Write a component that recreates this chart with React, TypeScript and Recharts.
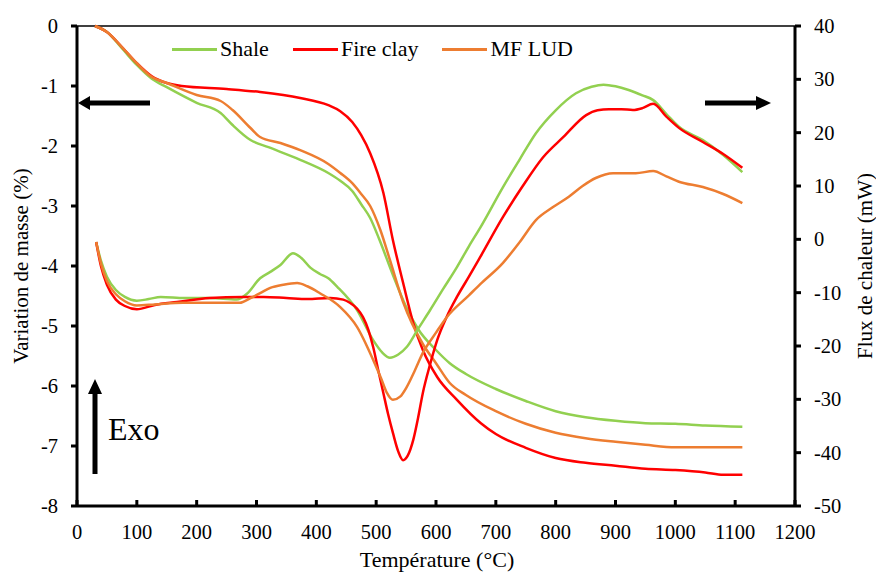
import React from "react";
import { LineChart, Line, XAxis, YAxis, ReferenceLine, Legend } from "recharts";

// mass loss curves (left axis, %)
const shaleTgTemp = [30, 50, 75, 100, 125, 150, 200, 240, 260, 290, 320, 373, 420, 440, 460, 475, 490, 505, 528, 550, 570, 600, 623, 650, 700, 750, 800, 850, 900, 950, 1000, 1050, 1112];
const shaleTg = [0, -0.1, -0.37, -0.65, -0.88, -1.02, -1.28, -1.45, -1.65, -1.9, -2.02, -2.23, -2.45, -2.58, -2.75, -2.97, -3.2, -3.55, -4.15, -4.68, -5.05, -5.4, -5.62, -5.8, -6.05, -6.25, -6.42, -6.52, -6.58, -6.62, -6.63, -6.66, -6.68];

const fireTgTemp = [30, 50, 75, 100, 125, 150, 175, 250, 306, 373, 420, 440, 460, 475, 490, 512, 528, 545, 562, 578, 602, 635, 675, 700, 750, 800, 850, 900, 950, 1000, 1050, 1080, 1112];
const fireTg = [0, -0.1, -0.35, -0.62, -0.84, -0.95, -1.0, -1.05, -1.1, -1.2, -1.32, -1.42, -1.6, -1.82, -2.12, -2.78, -3.57, -4.28, -4.95, -5.4, -5.85, -6.23, -6.62, -6.8, -7.03, -7.2, -7.28, -7.33, -7.38, -7.4, -7.44, -7.48, -7.48];

const ludTgTemp = [30, 50, 75, 100, 125, 150, 200, 240, 260, 290, 306, 340, 373, 420, 440, 460, 475, 490, 507, 523, 545, 578, 600, 623, 650, 700, 750, 800, 850, 900, 950, 1000, 1050, 1112];
const ludTg = [0, -0.1, -0.35, -0.62, -0.85, -0.95, -1.15, -1.25, -1.4, -1.7, -1.85, -1.95, -2.07, -2.3, -2.45, -2.62, -2.8, -3.0, -3.4, -3.9, -4.6, -5.3, -5.62, -5.95, -6.15, -6.42, -6.63, -6.78, -6.87, -6.93, -6.98, -7.02, -7.02, -7.02];

// heat flow curves (right axis, mW)
const shaleDscTemp = [32, 40, 50, 65, 80, 100, 120, 140, 180, 222, 267, 284, 306, 323, 340, 361, 375, 390, 406, 420, 435, 468, 495, 510, 523, 537, 551, 570, 590, 612, 635, 655, 674, 712, 740, 767, 800, 834, 860, 880, 900, 922, 945, 963, 985, 1006, 1046, 1080, 1112];
const shaleDsc = [-0.5, -4, -7, -9.5, -10.8, -11.5, -11.2, -10.8, -11.0, -11.0, -11.3, -10.2, -7.3, -6.1, -4.8, -2.6, -3.5, -5.3, -6.5, -7.3, -8.9, -13.25, -18.9, -21.2, -22.2, -21.6, -20.2, -16.8, -13.3, -9.3, -5.2, -1.3, 2.2, 9.8, 15, 19.9, 24.2, 27.4, 28.6, 29.0, 28.7, 28.0, 27.0, 26.1, 23.5, 21.1, 18.6, 15.8, 12.6];

const fireDscTemp = [32, 40, 50, 65, 80, 100, 130, 167, 222, 277, 312, 350, 385, 423, 445, 456, 468, 478, 487, 495, 503, 512, 520, 528, 537, 545, 553, 562, 570, 578, 590, 602, 618, 635, 655, 674, 712, 745, 779, 813, 851, 870, 889, 910, 929, 945, 963, 985, 1006, 1046, 1080, 1112];
const fireDsc = [-0.5, -5, -8.5, -11.3, -12.5, -13.1, -12.3, -11.75, -11.0, -10.8, -10.8, -11.0, -11.2, -11.0, -11.3, -11.9, -13, -14.6, -17, -20.2, -24.3, -28.8, -32.8, -36.3, -39.8, -41.4, -40.5, -37.6, -33.5, -28.8, -23.5, -18.9, -14.5, -10.8, -7, -3.3, 4.2, 10, 15.4, 19.2, 23.3, 24.2, 24.4, 24.4, 24.25, 24.6, 25.4, 23, 20.9, 18.25, 16, 13.4];

const ludDscTemp = [32, 40, 50, 65, 80, 100, 130, 177, 251, 272, 290, 306, 323, 345, 368, 385, 406, 440, 468, 495, 508, 518, 528, 540, 551, 565, 578, 600, 618, 655, 674, 712, 740, 767, 795, 822, 845, 867, 896, 934, 963, 985, 1006, 1046, 1080, 1112];
const ludDsc = [-0.5, -4.5, -7.8, -10.3, -11.6, -12.4, -12.2, -11.9, -11.9, -11.9, -11.0, -10.1, -9.1, -8.5, -8.2, -8.8, -10.1, -12.7, -16.4, -22.6, -26, -28.8, -30.1, -29.5, -27.7, -24.5, -21.3, -17.5, -14.6, -10.5, -8.4, -4.4, -0.5, 3.6, 6, 8, 10, 11.5, 12.4, 12.4, 12.8, 11.8, 10.8, 9.8, 8.5, 6.8];

const seriesNames = ["Shale", "Fire clay", "MF LUD"];
const seriesColors = ["#92D050", "#FF0000", "#ED7D31"];

const xTicks = [0, 100, 200, 300, 400, 500, 600, 700, 800, 900, 1000, 1100, 1200];
const leftTicks = [0, -1, -2, -3, -4, -5, -6, -7, -8];
const rightTicks = [40, 30, 20, 10, 0, -10, -20, -30, -40, -50];

const zip = (t: number[], v: number[]) => t.map((x, i) => ({ t: x, v: v[i] }));

const font = '"Liberation Serif", "Times New Roman", serif';

const LeftTick = ({ x, y, payload }: any) => (
  <g>
    <line x1={x - 6} x2={x} y1={y} y2={y} stroke="#000" strokeWidth={3} />
    <text x={x - 19} y={y + 7} textAnchor="end" fontSize={20.5} fontFamily={font} fill="#000">
      {payload.value}
    </text>
  </g>
);

const RightTick = ({ x, y, payload }: any) => (
  <g>
    <line x1={x} x2={x + 6} y1={y} y2={y} stroke="#000" strokeWidth={3} />
    <text x={x + 19} y={y + 7} textAnchor="start" fontSize={20.5} fontFamily={font} fill="#000">
      {payload.value}
    </text>
  </g>
);

const BottomTick = ({ x, y, payload }: any) => (
  <g>
    <line x1={x} x2={x} y1={y} y2={y - 6} stroke="#000" strokeWidth={3} />
    <text x={x} y={y + 33} textAnchor="middle" fontSize={20.5} fontFamily={font} fill="#000">
      {payload.value}
    </text>
  </g>
);

const LegendBox = () => (
  <div style={{ position: "relative", height: 0 }}>
    <div style={{ position: "absolute", left: 172, top: 0, display: "flex", alignItems: "center", fontFamily: font, fontSize: 22, lineHeight: "26px" }}>
      {seriesNames.map((n, i) => (
        <div key={n} style={{ display: "flex", alignItems: "center", marginRight: 24 }}>
          <div style={{ width: 45, height: 3, background: seriesColors[i], marginRight: 3 }} />
          <span>{n}</span>
        </div>
      ))}
    </div>
  </div>
);

export default function App() {
  const tg = [zip(shaleTgTemp, shaleTg), zip(fireTgTemp, fireTg), zip(ludTgTemp, ludTg)];
  const dsc = [zip(shaleDscTemp, shaleDsc), zip(fireDscTemp, fireDsc), zip(ludDscTemp, ludDsc)];

  return (
    <div style={{ position: "absolute", left: 0, top: 0, width: 876, height: 576, background: "#fff" }}>
      <LineChart width={876} height={576} margin={{ top: 26, right: 0, left: 0, bottom: 0 }}>
        <XAxis
          dataKey="t"
          type="number"
          domain={[0, 1200]}
          ticks={xTicks}
          interval={0}
          height={70}
          tickSize={0}
          tickMargin={0}
          tick={<BottomTick />}
          axisLine={{ stroke: "#000", strokeWidth: 3 }}
          tickLine={false}
        />
        <YAxis
          yAxisId="left"
          type="number"
          domain={[-8, 0]}
          ticks={leftTicks}
          interval={0}
          width={77}
          tickSize={0}
          tickMargin={0}
          tick={<LeftTick />}
          axisLine={{ stroke: "#000", strokeWidth: 3 }}
          tickLine={false}
          label={() => (
            <text x={0} y={0} transform="translate(28,266) rotate(-90)" textAnchor="middle" fontSize={21} fontFamily={font} fill="#000">
              Variation de masse (%)
            </text>
          )}
        />
        <YAxis
          yAxisId="right"
          orientation="right"
          type="number"
          domain={[-50, 40]}
          ticks={rightTicks}
          interval={0}
          width={81}
          tickSize={0}
          tickMargin={0}
          tick={<RightTick />}
          axisLine={{ stroke: "#000", strokeWidth: 3 }}
          tickLine={false}
          label={() => (
            <text x={0} y={0} transform="translate(872,266) rotate(-90)" textAnchor="middle" fontSize={21} fontFamily={font} fill="#000">
              Flux de chaleur (mW)
            </text>
          )}
        />
        <ReferenceLine yAxisId="left" y={0} stroke="#000" strokeWidth={1.5} />
        <Legend
          layout="horizontal"
          verticalAlign="middle"
          align="center"
          content={<LegendBox />}
          wrapperStyle={{ top: 36, left: 0, width: 876 }}
        />
        {tg.map((d, i) => (
          <Line
            key={"tg" + i}
            yAxisId="left"
            data={d}
            dataKey="v"
            type="monotone"
            stroke={seriesColors[i]}
            strokeWidth={2.5}
            dot={false}
            isAnimationActive={false}
            legendType="none"
          />
        ))}
        {dsc.map((d, i) => (
          <Line
            key={"dsc" + i}
            yAxisId="right"
            data={d}
            dataKey="v"
            type="monotone"
            stroke={seriesColors[i]}
            strokeWidth={2.5}
            dot={false}
            isAnimationActive={false}
            legendType="none"
          />
        ))}
      </LineChart>
      <svg width={876} height={576} style={{ position: "absolute", left: 0, top: 0, pointerEvents: "none" }}>
        <line x1={150} y1={103} x2={88} y2={103} stroke="#000" strokeWidth={5} />
        <polygon points="78,103 90,96 90,110" fill="#000" />
        <line x1={705} y1={103} x2={758} y2={103} stroke="#000" strokeWidth={5} />
        <polygon points="771,103 756,96 756,110" fill="#000" />
        <line x1={95} y1={474} x2={95} y2={392} stroke="#000" strokeWidth={5} />
        <polygon points="95,379 88,394 102,394" fill="#000" />
        <text x={108} y={440} fontSize={32} fontFamily={font} fill="#000">Exo</text>
        <text x={437} y={567} textAnchor="middle" fontSize={22} fontFamily={font} fill="#000">Température (°C)</text>
      </svg>
    </div>
  );
}
